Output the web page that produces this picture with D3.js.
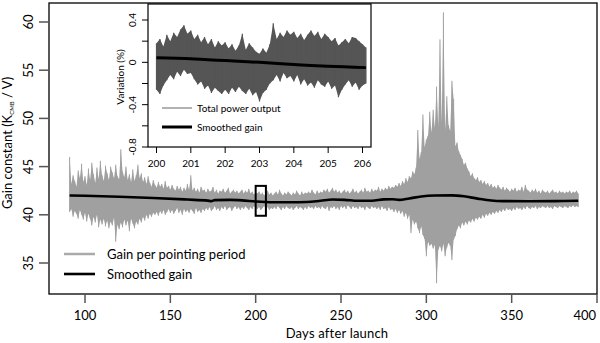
<!DOCTYPE html>
<html><head><meta charset="utf-8">
<script src="https://cdn.jsdelivr.net/npm/d3@7"></script>
<style>
html,body{margin:0;padding:0;background:#fff;}
svg{display:block;font-family:Lato,"Noto Sans",sans-serif;}
</style></head>
<body><svg id="c" width="600" height="343"></svg>
<script>
// ---------- main chart data ----------
const gainStartDay = 91; // one hi/lo pair per day
const gainHi = [
46.0,43.2,44.1,43.5,42.9,44.6,43.8,45.3,43.4,44.0,
43.1,44.8,43.6,45.4,44.2,43.3,44.9,43.7,45.6,44.1,
43.5,45.1,44.3,43.6,45.0,44.4,43.8,45.2,44.0,43.7,
46.8,44.5,43.9,45.0,43.6,44.2,43.4,44.7,43.5,44.1,
45.2,43.8,44.3,43.4,43.9,43.2,44.0,43.3,42.9,43.6,
43.1,42.8,43.4,42.9,43.2,42.7,43.5,42.8,43.0,42.6,
43.1,42.7,42.5,43.0,42.6,42.9,42.4,42.8,42.5,43.2,
42.6,44.1,42.5,42.8,42.4,42.7,42.3,42.9,42.5,42.6,
42.3,42.7,42.4,42.5,42.9,42.3,42.6,42.2,42.5,42.4,
42.7,42.3,42.5,42.8,42.2,42.4,42.6,42.3,42.5,42.2,
42.4,42.6,42.2,42.5,42.3,42.7,42.2,42.4,42.1,42.3,
42.2,42.4,42.1,42.3,42.0,42.2,42.5,42.1,42.3,42.0,
42.2,42.4,42.1,42.6,42.2,42.0,42.3,42.1,42.4,42.2,
42.0,42.3,42.1,42.5,42.2,42.0,42.4,42.1,42.3,42.2,
42.4,42.2,42.6,42.3,42.1,42.5,42.2,42.4,42.3,42.6,
42.4,42.7,42.3,42.5,42.8,42.4,42.6,42.3,42.5,42.2,
42.4,42.6,42.3,42.5,42.2,42.4,42.7,42.3,42.5,42.2,
42.4,42.6,42.3,42.8,42.4,42.5,42.3,42.7,42.4,42.6,
42.5,42.9,42.4,42.7,42.5,42.8,42.6,43.0,42.7,42.9,
42.8,43.1,42.9,43.3,43.0,43.5,43.2,43.8,43.4,44.0,
43.8,44.5,44.2,44.9,48.8,45.8,46.5,50.4,47.0,47.8,
48.2,50.7,48.5,50.9,49.0,53.3,49.2,58.2,49.5,61.0,
48.8,52.3,49.3,48.7,53.9,52.0,47.1,47.5,46.6,46.2,
45.8,45.2,45.4,44.8,44.5,44.0,44.3,43.8,43.6,43.9,
43.4,43.6,43.2,43.5,43.1,43.3,42.9,43.2,42.8,43.0,
42.7,43.1,42.8,42.6,42.9,42.5,42.8,42.6,42.4,42.7,
42.5,42.8,42.4,42.6,42.5,42.9,42.4,43.1,42.6,42.5,
42.3,42.6,42.4,42.7,42.3,42.5,42.2,42.6,42.4,42.3,
42.5,42.2,42.4,42.6,42.3,42.4,42.2,42.5,42.3,42.4,
42.2,42.4,42.3,42.5,42.2,42.4,42.3,42.5,42.2
];
const gainLo = [
40.3,40.6,39.8,40.4,40.1,39.6,40.5,40.0,39.5,40.2,
39.3,40.1,39.6,38.9,39.8,39.2,40.0,38.7,39.5,39.0,
39.6,38.8,39.4,38.6,39.3,38.9,39.7,37.2,39.0,38.5,
39.2,38.7,39.5,38.9,39.4,38.3,39.6,39.1,38.6,39.3,
39.0,39.6,39.2,39.8,39.4,40.0,39.6,40.1,39.8,40.2,
40.0,40.3,39.9,40.4,40.1,40.5,40.0,40.3,40.6,40.2,
40.5,40.1,40.4,40.7,40.2,40.5,40.0,40.6,40.3,40.5,
40.2,40.6,40.4,40.1,40.7,40.3,40.5,40.2,40.6,40.4,
40.7,40.5,40.8,40.4,40.6,40.9,40.5,40.7,40.4,40.8,
40.6,40.9,40.5,40.7,40.8,40.4,40.7,40.9,40.6,40.8,
40.5,40.8,40.6,40.9,40.7,40.5,40.8,40.6,40.9,40.7,
40.6,40.8,40.5,40.7,40.9,40.6,40.8,40.5,40.7,40.6,
40.8,40.6,40.9,40.7,40.5,40.8,40.6,40.9,40.7,40.6,
40.8,40.5,40.7,40.9,40.6,40.8,40.7,40.5,40.8,40.6,
40.9,40.7,40.8,40.6,40.9,40.7,40.8,40.6,40.9,40.7,
40.6,40.9,40.4,40.8,40.7,40.9,40.6,40.8,40.5,40.9,
40.7,40.9,40.6,41.0,40.8,40.6,40.9,40.7,40.8,40.6,
40.9,40.7,40.8,40.5,40.9,40.7,40.6,40.9,40.7,40.8,
40.6,40.8,40.5,40.9,40.6,40.7,40.4,40.8,40.5,40.6,
40.3,40.6,40.2,40.5,40.1,40.4,39.8,40.2,39.6,40.0,
38.1,39.5,39.0,39.3,38.6,38.1,38.8,37.9,37.5,35.7,
37.2,36.8,37.0,36.5,36.9,32.9,36.4,36.8,36.2,37.0,
35.7,36.6,37.1,36.8,35.3,37.4,37.8,38.5,38.9,38.6,
39.2,38.9,39.3,39.0,39.4,39.2,39.6,39.3,39.7,39.5,
39.8,39.6,40.0,39.7,40.1,39.9,40.2,40.0,40.3,40.1,
40.4,40.2,40.5,40.3,40.6,40.4,40.7,40.5,40.6,40.4,
40.7,40.5,40.8,40.6,40.7,40.5,40.8,40.6,40.9,40.7,
40.6,40.8,40.7,40.9,40.6,40.8,40.7,40.9,40.8,40.7,
40.9,40.7,40.8,40.6,40.9,40.8,40.7,40.9,40.8,40.7,
40.9,40.8,40.7,40.9,40.8,41.0,40.8,40.9,40.8
];
const smoothDays = [91,100,120,140,160,172,174,176,185,192,200,210,220,230,238,245,252,260,268,275,280,284,290,297,305,315,322,330,338,345,360,375,389];
const smoothGain = [42.0,41.97,41.88,41.75,41.58,41.47,41.42,41.52,41.55,41.5,41.38,41.3,41.3,41.32,41.45,41.58,41.55,41.45,41.45,41.6,41.62,41.55,41.7,41.9,42.0,42.02,41.92,41.68,41.48,41.42,41.4,41.42,41.45];
const xTicks = [100,150,200,250,300,350,400];
const yTicks = [35,40,45,50,55,60];
const zoomBox = {d0:200, d1:206, v0:39.9, v1:43.0};

// ---------- inset data ----------
const insetStartDay = 200.0; // step 0.1 day
const insetHi = [
0.18,0.22,0.15,0.26,0.20,0.28,0.24,0.31,0.35,0.27,
0.30,0.22,0.26,0.19,0.24,0.17,0.22,0.14,0.20,0.16,
0.19,0.13,0.17,0.11,0.16,0.27,0.12,0.18,0.14,0.10,
0.08,0.13,0.09,0.17,0.37,0.22,0.28,0.24,0.30,0.26,
0.29,0.23,0.27,0.21,0.26,0.30,0.25,0.29,0.22,0.27,
0.24,0.20,0.23,0.16,0.19,0.22,0.18,0.24,0.23,0.20,
0.17,0.14];
const insetLo = [
-0.26,-0.30,-0.22,-0.17,-0.12,-0.16,-0.09,-0.13,-0.07,-0.11,
-0.10,-0.16,-0.21,-0.18,-0.25,-0.22,-0.29,-0.24,-0.27,-0.30,
-0.26,-0.30,-0.24,-0.28,-0.23,-0.27,-0.30,-0.25,-0.31,-0.28,
-0.37,-0.29,-0.26,-0.20,-0.17,-0.12,-0.18,-0.10,-0.15,-0.13,
-0.18,-0.12,-0.21,-0.16,-0.22,-0.19,-0.24,-0.17,-0.21,-0.23,
-0.18,-0.25,-0.22,-0.33,-0.26,-0.21,-0.17,-0.23,-0.19,-0.26,
-0.22,-0.20];
const insetSmoothDays = [200,201,201.5,202,203,204,204.5,205,206.1];
const insetSmooth = [0.044,0.035,0.025,0.017,0.0,-0.02,-0.03,-0.038,-0.05];
const insetXTicks = [200,201,202,203,204,205,206];
const insetYTicks = [0.4,0.2,0,-0.2,-0.4,-0.6,-0.8];
const insetYLabels = [0.4,0,-0.4,-0.8];

// ---------- drawing ----------
const svg = d3.select("#c");
const x = d3.scaleLinear().domain([100,400]).range([85,597]);
const y = d3.scaleLinear().domain([35,60]).range([263,22]);
const frame = {l:49, r:597, t:3, b:294};

// gray data: envelope area + thin rules for spike texture
const gArea = d3.area().x((h,i)=>x(gainStartDay+i)).y1(h=>y(h)).y0((h,i)=>y(gainLo[i]));
svg.append("path").attr("d", gArea(gainHi)).attr("fill","#a0a0a0");
svg.append("g").selectAll("line").data(gainHi).join("line")
  .attr("x1",(h,i)=>x(gainStartDay+i)).attr("x2",(h,i)=>x(gainStartDay+i))
  .attr("y1",h=>y(h)).attr("y2",(h,i)=>y(gainLo[i]))
  .attr("stroke","#a0a0a0").attr("stroke-width",1);

// smoothed
svg.append("path").attr("d", d3.line().curve(d3.curveMonotoneX).x(d=>x(d)).y((d,i)=>y(smoothGain[i]))(smoothDays))
  .attr("fill","none").attr("stroke","#000").attr("stroke-width",2.6);

// zoom box
svg.append("rect").attr("x",x(zoomBox.d0)).attr("y",y(zoomBox.v1))
  .attr("width",x(zoomBox.d1)-x(zoomBox.d0)).attr("height",y(zoomBox.v0)-y(zoomBox.v1))
  .attr("fill","none").attr("stroke","#000").attr("stroke-width",2);

// frame
svg.append("rect").attr("x",frame.l).attr("y",frame.t).attr("width",frame.r-frame.l).attr("height",frame.b-frame.t)
  .attr("fill","none").attr("stroke","#000").attr("stroke-width",1.3);

// x axis
const gx = svg.append("g");
xTicks.forEach((t,i)=>{
  const last = i===xTicks.length-1;
  gx.append("line").attr("x1",x(t)).attr("x2",x(t)).attr("y1",frame.b).attr("y2",frame.b+9).attr("stroke","#555").attr("stroke-width",1.5);
  gx.append("text").attr("x",last? x(t)-1 : x(t)).attr("y",320).attr("text-anchor",last?"end":"middle").attr("font-size",13).text(t);
});
svg.append("text").attr("x",337).attr("y",338).attr("text-anchor","middle").attr("font-size",13).attr("letter-spacing","0.2").text("Days after launch");

// y axis
yTicks.forEach(t=>{
  svg.append("line").attr("x1",frame.l-10).attr("x2",frame.l).attr("y1",y(t)).attr("y2",y(t)).attr("stroke","#555").attr("stroke-width",1.5);
  svg.append("text").attr("transform",`translate(33,${y(t)}) rotate(-90)`).attr("text-anchor","middle").attr("font-size",13).text(t);
});
const yl = svg.append("text").attr("transform","translate(12,143) rotate(-90)").attr("text-anchor","middle").attr("font-size",13);
yl.append("tspan").text("Gain constant  (K");
yl.append("tspan").attr("font-size",6).attr("dy",2).text("CMB");
yl.append("tspan").attr("dy",-2).text("  / V)");

// main legend
svg.append("line").attr("x1",64).attr("x2",95).attr("y1",254).attr("y2",254).attr("stroke","#aaa").attr("stroke-width",2.5);
svg.append("text").attr("x",107).attr("y",258.5).attr("font-size",13).text("Gain per pointing period");
svg.append("line").attr("x1",64).attr("x2",95).attr("y1",274).attr("y2",274).attr("stroke","#000").attr("stroke-width",2.6);
svg.append("text").attr("x",107).attr("y",278.5).attr("font-size",13).text("Smoothed gain");

// ---------- inset ----------
const xi = d3.scaleLinear().domain([200,206]).range([156.5,362.5]);
const yi = d3.scaleLinear().domain([-0.8,0.4]).range([147,20]);
const ib = {l:148, r:371, t:4, b:147};
svg.append("rect").attr("x",ib.l).attr("y",ib.t).attr("width",ib.r-ib.l).attr("height",ib.b-ib.t).attr("fill","#fff");
const iArea = d3.area().x((h,i)=>xi(insetStartDay+i*0.1)).y1(h=>yi(h)).y0((h,i)=>yi(insetLo[i]));
svg.append("path").attr("d", iArea(insetHi)).attr("fill","#555");
svg.append("g").selectAll("line").data(insetHi).join("line")
  .attr("x1",(h,i)=>xi(insetStartDay+i*0.1)).attr("x2",(h,i)=>xi(insetStartDay+i*0.1))
  .attr("y1",h=>yi(h)).attr("y2",(h,i)=>yi(insetLo[i]))
  .attr("stroke","#555").attr("stroke-width",1.2);
svg.append("path").attr("d", d3.line().curve(d3.curveMonotoneX).x(d=>xi(d)).y((d,i)=>yi(insetSmooth[i]))(insetSmoothDays))
  .attr("fill","none").attr("stroke","#000").attr("stroke-width",3);
svg.append("rect").attr("x",ib.l).attr("y",ib.t).attr("width",ib.r-ib.l).attr("height",ib.b-ib.t)
  .attr("fill","none").attr("stroke","#000").attr("stroke-width",1.2);
insetXTicks.forEach(t=>{
  svg.append("line").attr("x1",xi(t)).attr("x2",xi(t)).attr("y1",ib.b).attr("y2",ib.b+6).attr("stroke","#000").attr("stroke-width",1);
  svg.append("text").attr("x",xi(t)).attr("y",167).attr("text-anchor","middle").attr("font-size",10).text(t);
});
insetYTicks.forEach(t=>{
  svg.append("line").attr("x1",ib.l-6).attr("x2",ib.l).attr("y1",yi(t)).attr("y2",yi(t)).attr("stroke","#000").attr("stroke-width",1);
});
insetYLabels.forEach(t=>{
  svg.append("text").attr("transform",`translate(136,${yi(t)}) rotate(-90)`).attr("text-anchor","middle").attr("font-size",10).text(t);
});
svg.append("text").attr("transform","translate(124,77) rotate(-90)").attr("text-anchor","middle").attr("font-size",10).text("Variation (%)");
svg.append("line").attr("x1",162).attr("x2",192).attr("y1",108).attr("y2",108).attr("stroke","#888").attr("stroke-width",1.3);
svg.append("text").attr("x",197).attr("y",111.5).attr("font-size",10).text("Total power output");
svg.append("line").attr("x1",162).attr("x2",192).attr("y1",127).attr("y2",127).attr("stroke","#000").attr("stroke-width",3);
svg.append("text").attr("x",197).attr("y",130.5).attr("font-size",10).text("Smoothed gain");
</script></body></html>
